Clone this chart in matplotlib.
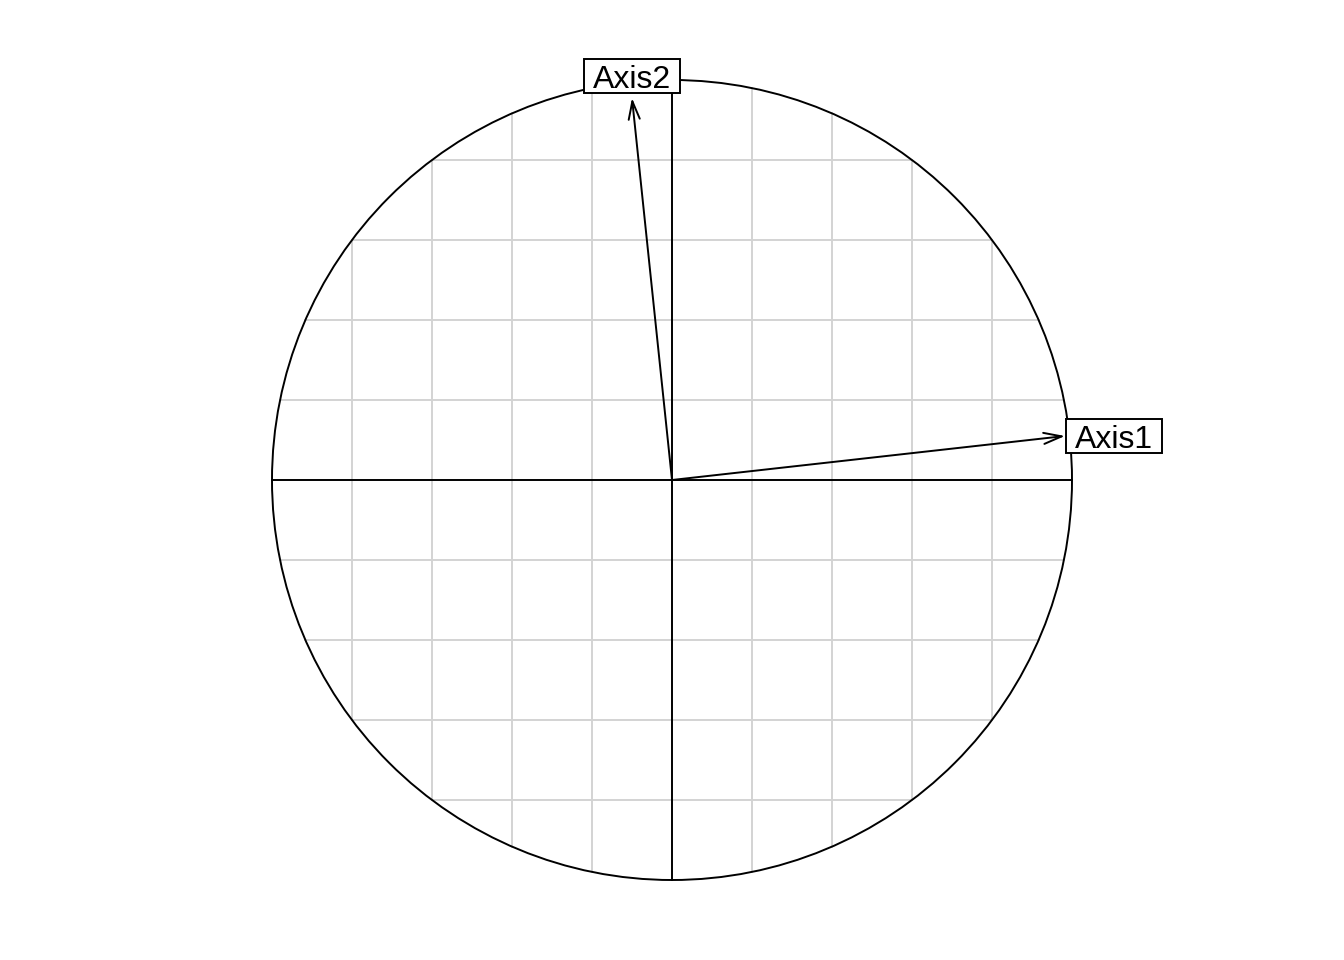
import numpy as np
import matplotlib
matplotlib.use("Agg")
import matplotlib.pyplot as plt
from matplotlib.patches import Circle, Rectangle
from matplotlib.transforms import IdentityTransform

# correlation circle data
labels = ["Axis1", "Axis2"]
x_coords = [0.9825, -0.10]
y_coords = [0.11, 0.955]
grid_vals = [-0.8, -0.6, -0.4, -0.2, 0.2, 0.4, 0.6, 0.8]

fig = plt.figure(figsize=(13.44, 9.6), dpi=100)
ax = fig.add_axes([0, 0, 1, 1])
ax.set_xlim(-1.68, 1.68)
ax.set_ylim(-1.2, 1.2)
ax.axis("off")

gcol = "#d3d3d3"
lw = 1.4
for v in grid_vals:
    h = np.sqrt(1 - v ** 2)
    ax.plot([v, v], [-h, h], color=gcol, lw=lw, zorder=1)
    ax.plot([-h, h], [v, v], color=gcol, lw=lw, zorder=1)

ax.plot([-1, 1], [0, 0], color="black", lw=lw, zorder=2)
ax.plot([0, 0], [-1, 1], color="black", lw=lw, zorder=2)
ax.add_patch(Circle((0, 0), 1, fill=False, ec="black", lw=lw, zorder=3))

fig.canvas.draw()
renderer = fig.canvas.get_renderer()

for lab, x, y in zip(labels, x_coords, y_coords):
    ax.annotate("", xy=(x, y), xytext=(0, 0),
                arrowprops=dict(arrowstyle="->,head_length=0.65,head_width=0.2",
                                color="black", lw=lw, shrinkA=0, shrinkB=0,
                                mutation_scale=20), zorder=4)
    if abs(x) > abs(y):
        t = ax.annotate(lab, xy=(x, y), xytext=(7, -3), textcoords="offset points",
                        ha="left", va="center", fontsize=23,
                        family="Liberation Sans", zorder=6)
    else:
        t = ax.annotate(lab, xy=(x, y), xytext=(0, 2), textcoords="offset points",
                        ha="center", va="bottom", fontsize=23,
                        family="Liberation Sans", zorder=6)
    bb = t.get_window_extent(renderer)
    padx = 9
    rect = Rectangle((bb.x0 - padx, bb.y0 + 2), bb.width + 2 * padx,
                     bb.height + 4, transform=IdentityTransform(),
                     fc="white", ec="black", lw=lw, zorder=5)
    ax.add_patch(rect)

fig.savefig("out.png", dpi=100)
